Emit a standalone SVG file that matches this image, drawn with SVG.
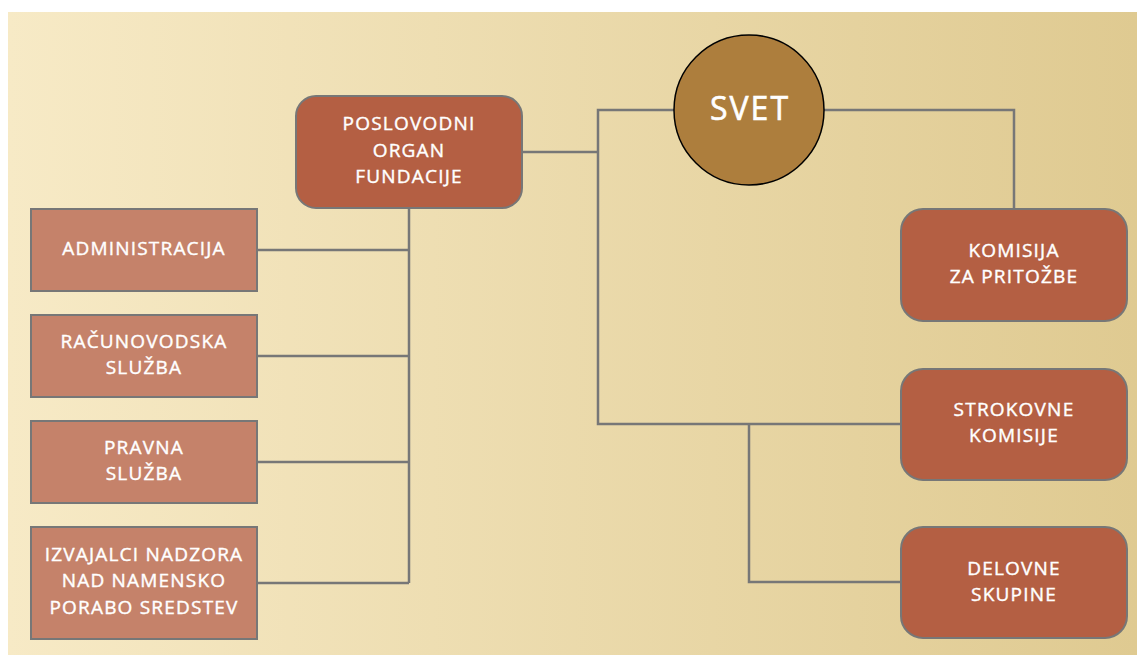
<svg xmlns="http://www.w3.org/2000/svg" width="1137" height="655" viewBox="0 0 1137 655">
<defs>
<linearGradient id="bg" x1="0" y1="0" x2="1" y2="0">
<stop offset="0" stop-color="#f7eac6"/>
<stop offset="1" stop-color="#dfca91"/>
</linearGradient>
<style>
.lbl{font-family:"Open Sans","Liberation Sans",sans-serif;font-size:19px;fill:#fff;stroke:#fff;stroke-width:0.4px;text-anchor:middle;font-weight:500;letter-spacing:1.2px}
.dark{fill:#b45f43;stroke:#777;stroke-width:2}
.light{fill:#c5826a;stroke:#777;stroke-width:2}
.con{fill:none;stroke:#777;stroke-width:2.5}
</style>
</defs>
<rect x="0" y="0" width="1137" height="655" fill="#fff"/>
<rect x="8" y="12" width="1129" height="643" fill="url(#bg)"/>
<g id="connectors">
<path class="con" d="M409 208 V583 M257 250 H409 M257 356 H409 M257 462 H409 M257 583 H409"/>
<path class="con" d="M522 152 H598 M674 110 H598 V424 H901 M749 424 V582 H901 M824 110 H1014 V209"/>
</g>
<g id="poslovodni">
<rect class="dark" x="296" y="96" width="226" height="112" rx="20"/>
<text class="lbl" x="409" y="130">POSLOVODNI</text>
<text class="lbl" x="409" y="157">ORGAN</text>
<text class="lbl" x="409" y="183">FUNDACIJE</text>
</g>
<g id="svet">
<circle cx="749" cy="110" r="75" fill="#ad7e3d" stroke="#000" stroke-width="1.5"/>
<text class="lbl" x="750" y="120" style="font-size:32px;letter-spacing:2px;stroke-width:0.6px">SVET</text>
</g>
<g id="administracija">
<rect class="light" x="31" y="209" width="226" height="82"/>
<text class="lbl" x="144" y="255">ADMINISTRACIJA</text>
</g>
<g id="racunovodska">
<rect class="light" x="31" y="315" width="226" height="82"/>
<text class="lbl" x="144" y="348">RAČUNOVODSKA</text>
<text class="lbl" x="144" y="374">SLUŽBA</text>
</g>
<g id="pravna">
<rect class="light" x="31" y="421" width="226" height="82"/>
<text class="lbl" x="144" y="454">PRAVNA</text>
<text class="lbl" x="144" y="480">SLUŽBA</text>
</g>
<g id="izvajalci">
<rect class="light" x="31" y="527" width="226" height="112"/>
<text class="lbl" x="144" y="561">IZVAJALCI NADZORA</text>
<text class="lbl" x="144" y="587">NAD NAMENSKO</text>
<text class="lbl" x="144" y="614">PORABO SREDSTEV</text>
</g>
<g id="komisija">
<rect class="dark" x="901" y="209" width="226" height="112" rx="22"/>
<text class="lbl" x="1014" y="257">KOMISIJA</text>
<text class="lbl" x="1014" y="283">ZA PRITOŽBE</text>
</g>
<g id="strokovne">
<rect class="dark" x="901" y="369" width="226" height="111" rx="22"/>
<text class="lbl" x="1014" y="416">STROKOVNE</text>
<text class="lbl" x="1014" y="442">KOMISIJE</text>
</g>
<g id="delovne">
<rect class="dark" x="901" y="527" width="226" height="111" rx="22"/>
<text class="lbl" x="1014" y="575">DELOVNE</text>
<text class="lbl" x="1014" y="601">SKUPINE</text>
</g>
</svg>
